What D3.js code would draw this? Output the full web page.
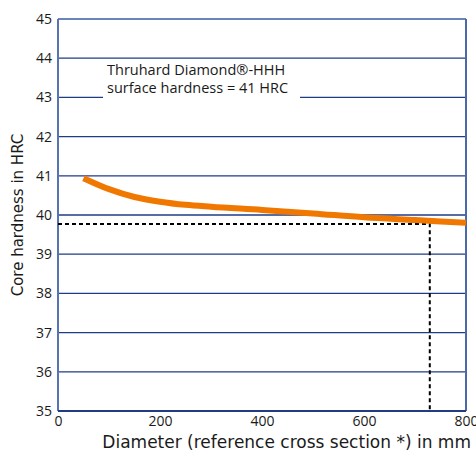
<!DOCTYPE html>
<html>
<head>
<meta charset="utf-8">
<script src="https://cdn.jsdelivr.net/npm/d3@7"></script>
<style>
  body { margin: 0; background: #fff; }
  text { font-family: "Open Sans", "DejaVu Sans", sans-serif; fill: #1a1a1a; }
  text.title { font-family: "DejaVu Sans", sans-serif; }
</style>
</head>
<body>
<div id="chart"></div>
<script>
const width = 476;
const height = 456;
const margin = {top: 19, right: 10, bottom: 45, left: 58};

// data
const diameter = [50, 100, 150, 200, 250, 300, 400, 500, 600, 700, 800];
const hardness = [40.94, 40.66, 40.46, 40.34, 40.26, 40.21, 40.13, 40.04, 39.94, 39.87, 39.80];
const xTicks = [0, 200, 400, 600, 800];
const yTicks = [35, 36, 37, 38, 39, 40, 41, 42, 43, 44, 45];
const refDiameter = 729;
const refHardness = 39.77;
const noteLines = ["Thruhard Diamond®-HHH", "surface hardness = 41 HRC"];

const svg = d3.select("#chart")
  .append("svg")
  .attr("width", width)
  .attr("height", height);

const x = d3.scaleLinear().domain([0, 800]).range([margin.left, 466]);
const y = d3.scaleLinear().domain([35, 45]).range([411, margin.top]);

// gridlines
svg.append("g")
  .selectAll("line")
  .data(yTicks.slice(1, -1))
  .join("line")
  .attr("x1", x(0))
  .attr("x2", x(800))
  .attr("y1", d => y(d))
  .attr("y2", d => y(d))
  .attr("stroke", "#1e3d84")
  .attr("stroke-width", 1.3);

// frame
svg.append("line").attr("x1", x(0)).attr("x2", x(800)).attr("y1", y(45)).attr("y2", y(45))
  .attr("stroke", "#6a86b8").attr("stroke-width", 2);
svg.append("line").attr("x1", x(800)).attr("x2", x(800)).attr("y1", y(45)).attr("y2", y(35))
  .attr("stroke", "#4a69a8").attr("stroke-width", 2);
svg.append("line").attr("x1", x(0)).attr("x2", x(0)).attr("y1", y(45)).attr("y2", y(35))
  .attr("stroke", "#5675b0").attr("stroke-width", 2);
svg.append("line").attr("x1", x(0)).attr("x2", x(800)).attr("y1", y(35)).attr("y2", y(35))
  .attr("stroke", "#1e3d84").attr("stroke-width", 2);

// annotation (white box hides the 43 gridline)
svg.append("rect")
  .attr("x", 103).attr("y", y(44) + 3)
  .attr("width", 197).attr("height", y(43) - y(44))
  .attr("fill", "#fff");

svg.append("g")
  .selectAll("text")
  .data(noteLines)
  .join("text")
  .attr("x", 107)
  .attr("y", (d, i) => 75 + i * 18)
  .attr("font-size", 14.5)
  .text(d => d);

// reference dashed lines
svg.append("path")
  .attr("d", d3.line()([[x(0), y(refHardness)], [x(refDiameter), y(refHardness)], [x(refDiameter), y(35)]]))
  .attr("fill", "none")
  .attr("stroke", "#000")
  .attr("stroke-width", 2)
  .attr("stroke-dasharray", "4,3");

// curve
const line = d3.line()
  .x((d, i) => x(diameter[i]))
  .y(d => y(d))
  .curve(d3.curveMonotoneX);

svg.append("path")
  .datum(hardness)
  .attr("d", line)
  .attr("fill", "none")
  .attr("stroke", "#f07800")
  .attr("stroke-width", 6);

// axes
const xAxis = svg.append("g")
  .attr("transform", `translate(0,${y(35)})`)
  .call(d3.axisBottom(x).tickValues(xTicks).tickSize(0).tickPadding(5));
xAxis.select(".domain").remove();
xAxis.selectAll("text").attr("font-size", 14).attr("fill", "#1a1a1a");

const yAxis = svg.append("g")
  .attr("transform", `translate(${x(0) - 1},0)`)
  .call(d3.axisLeft(y).tickValues(yTicks).tickSize(0).tickPadding(5));
yAxis.select(".domain").remove();
yAxis.selectAll("text").attr("font-size", 14).attr("fill", "#1a1a1a");

svg.append("text")
  .attr("class", "title")
  .attr("x", 471)
  .attr("y", 448)
  .attr("text-anchor", "end")
  .attr("font-size", 17)
  .text("Diameter (reference cross section *) in mm");

svg.append("text")
  .attr("class", "title")
  .attr("transform", `translate(23,${(y(45) + y(35)) / 2}) rotate(-90)`)
  .attr("text-anchor", "middle")
  .attr("font-size", 15)
  .text("Core hardness in HRC");
</script>
</body>
</html>
